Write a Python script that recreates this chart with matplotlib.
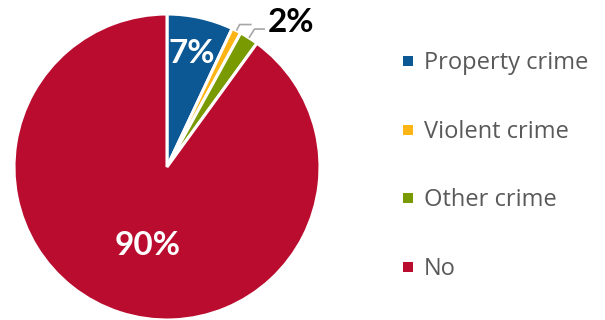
import numpy as np
import matplotlib
matplotlib.use("Agg")
import matplotlib.pyplot as plt
from matplotlib.patches import Rectangle

categories = ["Property crime", "Violent crime", "Other crime", "No"]
shares = [7, 1, 2, 90]
colors = ["#0B5894", "#FDB515", "#7A9A01", "#BA0C2F"]

plt.rcParams["font.family"] = ["Lato", "DejaVu Sans"]

W, H = 605, 320
fig = plt.figure(figsize=(W / 100, H / 100), dpi=100)

# pie area: centre at (167, 167) px, radius 153 px
cx, cy, R = 167, 167, 153
ax = fig.add_axes([(cx - R) / W, (H - cy - R) / H, 2 * R / W, 2 * R / H])
wedges, _ = ax.pie(shares, colors=colors, startangle=90, counterclock=False,
                   radius=1.0, wedgeprops=dict(edgecolor="white", linewidth=2.2))
ax.set_xlim(-1, 1)
ax.set_ylim(-1, 1)
ax.set_aspect("equal")
ax.axis("off")

total = sum(shares)

def mid_angle(i):
    before = sum(shares[:i]) + shares[i] / 2
    return np.deg2rad(90 - before / total * 360)

# values inside the large slices
ax.text(0.165, 0.745, f"{shares[0]}%", color="white", fontsize=24,
        fontweight="bold", ha="center", va="center")
ax.text(-0.124, -0.516, f"{shares[3]}%", color="white", fontsize=24,
        fontweight="bold", ha="center", va="center")

# leader lines for the two thin slices
for i, r_el, x_end in [(1, 1.045, 0.553), (2, 1.068, 0.64)]:
    a = mid_angle(i)
    x0, y0 = np.cos(a) * 1.0, np.sin(a) * 1.0
    x1, y1 = np.cos(a) * r_el, np.sin(a) * r_el
    ax.plot([x0, x1, x_end], [y0, y1, y1], color="#A6A6A6", lw=1.2,
            clip_on=False, solid_capstyle="butt")

ax.text(0.66, 0.945, f"{shares[2]}%", color="black", fontsize=24,
        fontweight="bold", ha="left", va="center")

# legend
rows_y = [61, 130, 198, 267]
for lab, col, y in zip(categories, colors, rows_y):
    fig.patches.append(Rectangle((403 / W, (H - y - 5) / H), 10 / W, 10 / H,
                                 transform=fig.transFigure, facecolor=col,
                                 edgecolor="none"))
    fig.text(424 / W, (H - y - 8) / H, lab, color="#595959", fontsize=17,
             family=["Open Sans", "DejaVu Sans"], ha="left", va="baseline")

fig.savefig("out.png", dpi=100)
